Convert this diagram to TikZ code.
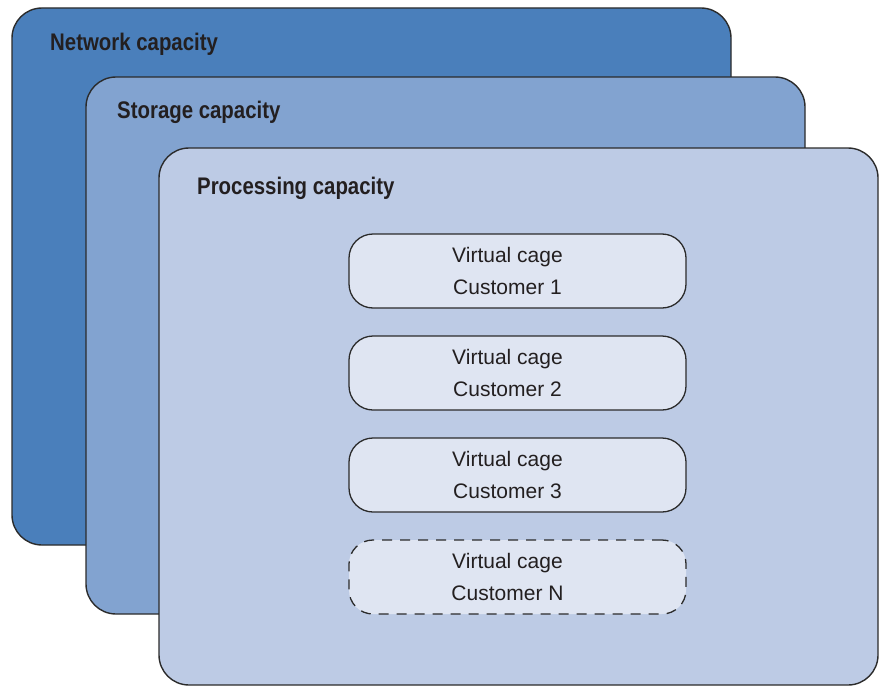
\documentclass[tikz,border=0pt]{standalone}
\usepackage{fontspec}
\setmainfont{Liberation Sans}
\newfontfamily\titlefont[FakeStretch=0.85]{Liberation Sans}
\definecolor{netblue}{HTML}{4A7FBB}
\definecolor{storblue}{HTML}{82A3D0}
\definecolor{procblue}{HTML}{BDCBE5}
\definecolor{cagefill}{HTML}{DFE5F2}
\definecolor{edgegray}{HTML}{2B2B2B}
\definecolor{textgray}{HTML}{231F20}
\begin{document}
\begin{tikzpicture}[x=1pt,y=-1pt]
	\tikzset{ layer/.style={draw=edgegray, line width=1.4pt, rounded corners=30pt} }
	\tikzset{ layertitle/.style={anchor=base west, inner sep=0pt, text=textgray, font=\titlefont\bfseries\fontsize{24}{28}\selectfont} }
	\tikzset{ cage/.style={draw=edgegray, line width=1.3pt, rounded corners=24pt, fill=cagefill, minimum width=337pt, minimum height=74pt} }
	\tikzset{ cagesolid/.style={solid}, cagedashed/.style={dash pattern=on 10pt off 8pt} }
	\tikzset{ cagetext/.style={align=center, inner sep=0pt, text=textgray, font=\fontsize{21}{32}\selectfont} }
	\useasboundingbox (0,0) rectangle (885,685);
	% the three capacity layers, back to front
	\foreach \x/\y/\col/\name/\tx/\ty/\title in {12/8/netblue/net/50/51/Network capacity, 86/77/storblue/stor/117/118/Storage capacity, 159/148/procblue/proc/197/194/Processing capacity} {
			\draw[layer, fill=\col] (\x,\y) rectangle (\x+719,\y+537);
			\node[layertitle] (\name) at (\tx,\ty) {\title};
		}
	% virtual cages
	\foreach \who/\sty [count=\row from 0] in {1/cagesolid, 2/cagesolid, 3/cagesolid, N/cagedashed} {
			\pgfmathsetmacro{\y}{271+\row*102}
			\node[cage, \sty] (cage\who) at (517.5,\y) {};
			\node[cagetext] (cage\who txt) at ([xshift=-10pt]cage\who.center) {Virtual cage\\Customer \who};
		}
\end{tikzpicture}
\end{document}
